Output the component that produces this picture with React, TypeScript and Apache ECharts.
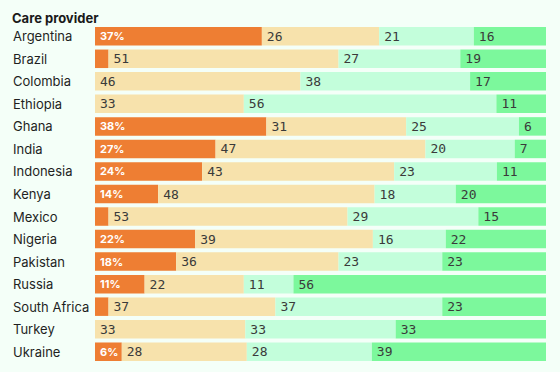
import React, { useEffect, useRef } from "react";
import * as echarts from "echarts";

const title = "Care provider";
const countries = ["Argentina", "Brazil", "Colombia", "Ethiopia", "Ghana", "India", "Indonesia", "Kenya", "Mexico", "Nigeria", "Pakistan", "Russia", "South Africa", "Turkey", "Ukraine"];
const seg1 = [37, 3, 0, 0, 38, 27, 24, 14, 3, 22, 18, 11, 3, 0, 6];
const seg2 = [26, 51, 46, 33, 31, 47, 43, 48, 53, 39, 36, 22, 37, 33, 28];
const seg3 = [21, 27, 38, 56, 25, 20, 23, 18, 29, 16, 23, 11, 37, 33, 28];
const seg4 = [16, 19, 17, 11, 6, 7, 11, 20, 15, 22, 23, 56, 23, 33, 39];
const segNames = ["Segment 1", "Segment 2", "Segment 3", "Segment 4"];
const segColors = ["#EE7E33", "#F7E2AC", "#C3FEDB", "#7CF89C"];

export default function App() {
  const ref = useRef<HTMLDivElement>(null);
  useEffect(() => {
    if (!ref.current) return;
    const chart = echarts.init(ref.current, null, { renderer: "svg" });
    const segs = [seg1, seg2, seg3, seg4];
    const sums = countries.map((_, i) => segs.reduce((s, a) => s + a[i], 0));
    const series = segs.map((arr, k) => ({
      name: segNames[k],
      type: "bar",
      stack: "total",
      barWidth: 18.5,
      itemStyle: { color: segColors[k] },
      data: arr.map((v, i) => ({ value: (v / sums[i]) * 100, raw: v })),
      label: {
        show: true,
        position: "insideLeft",
        distance: 5,
        fontFamily: k === 0 ? "Inter" : "DejaVu Sans Mono",
        fontSize: k === 0 ? 11 : 13,
        fontWeight: k === 0 ? "bold" : "normal",
        color: k === 0 ? "#ffffff" : "#3a3a3a",
        formatter: (p: any) => {
          const raw = p.data.raw;
          if (k === 0) return raw >= 5 ? raw + "%" : "";
          return raw > 0 ? String(raw) : "";
        },
      },
    }));
    chart.setOption({
      animation: false,
      backgroundColor: "#F4FFF8",
      title: {
        text: title,
        left: 7,
        top: 6,
        textStyle: { fontFamily: "Inter", fontSize: 13, fontWeight: "bold", color: "#1a1a1a" },
      },
      grid: { left: 95, right: 14, top: 25, bottom: 9 },
      xAxis: { type: "value", min: 0, max: 100, show: false },
      yAxis: {
        type: "category",
        data: countries,
        inverse: true,
        axisLine: { show: false },
        axisTick: { show: false },
        axisLabel: {
          align: "left",
          margin: 82,
          fontFamily: "Inter",
          fontSize: 13,
          color: "#1f1f1f",
        },
      },
      series,
    });
    return () => chart.dispose();
  }, []);
  return <div ref={ref} style={{ width: 560, height: 372, position: "absolute", left: 0, top: 0 }} />;
}
